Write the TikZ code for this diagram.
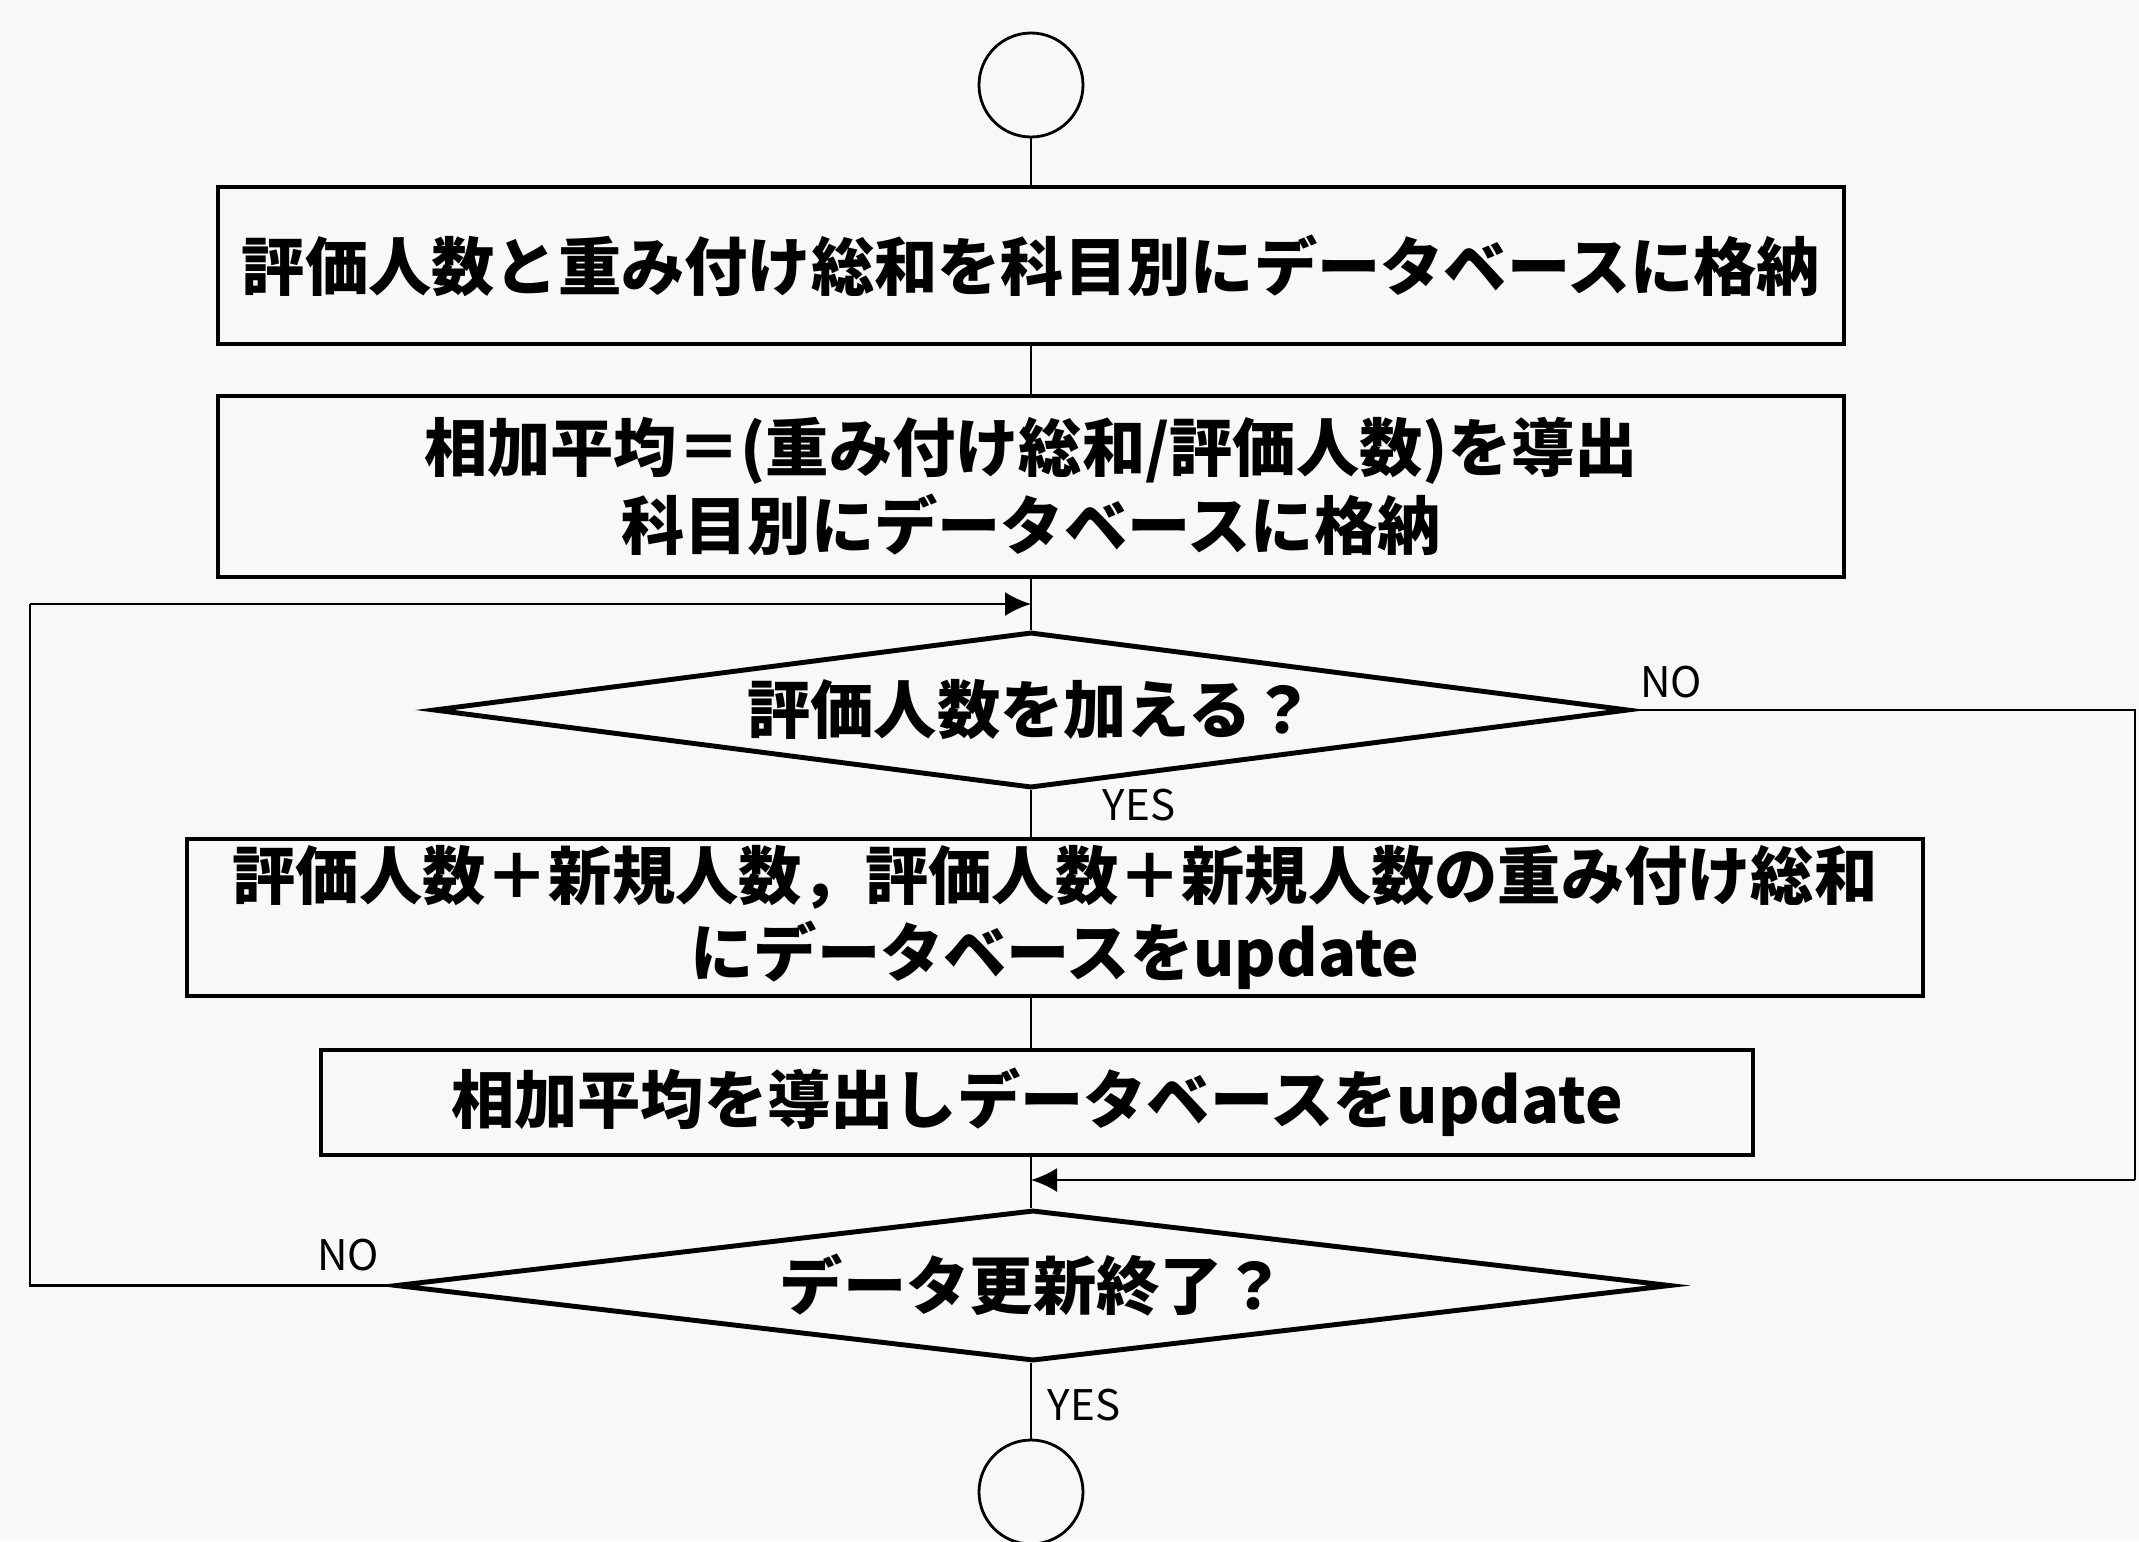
\documentclass[tikz,border=0pt]{standalone}
\usepackage{fontspec}
\setmainfont{Noto Sans CJK JP}
\usetikzlibrary{shapes.geometric,arrows.meta}
\definecolor{paper}{RGB}{248,248,248}

\begin{document}
\begin{tikzpicture}
  \tikzset{every node/.style={font=\fontsize{18}{22}\selectfont\bfseries}}
  \tikzset{process/.style={draw,line width=1.4pt,align=center,inner sep=0pt}}
  \tikzset{decision/.style={draw,diamond,line width=1.4pt,inner sep=0pt,aspect=7.6}}
  \tikzset{terminal/.style={draw,circle,line width=0.8pt,minimum size=1.04cm,inner sep=0pt}}
  \tikzset{answer/.style={font=\fontsize{12}{14}\selectfont}}
  \tikzset{flow/.style={line width=0.7pt}}
  \tikzset{into/.style={flow,-{Latex[length=2.6mm,width=2.4mm]}}}
  \useasboundingbox[fill=paper] (0,0) rectangle (21.39,-15.41);
  \node[terminal] (start) at (10.31,-0.85) {};
  \node[process,minimum width=16.26cm,minimum height=1.57cm] (store) at (10.31,-2.655)
    {評価人数と重み付け総和を科目別にデータベースに格納};
  \node[process,minimum width=16.26cm,minimum height=1.81cm] (mean) at (10.31,-4.865)
    {相加平均＝(重み付け総和/評価人数)を導出\\科目別にデータベースに格納};
  \node[decision,minimum width=11.95cm,minimum height=1.56cm] (add) at (10.31,-7.10)
    {評価人数を加える？};
  \node[process,minimum width=17.36cm,minimum height=1.57cm] (update) at (10.55,-9.175)
    {評価人数＋新規人数，評価人数＋新規人数の重み付け総和\\にデータベースをupdate};
  \node[process,minimum width=14.32cm,minimum height=1.05cm] (remean) at (10.37,-11.025)
    {相加平均を導出しデータベースをupdate};
  \node[decision,minimum width=12.75cm,minimum height=1.51cm] (done) at (10.33,-12.855)
    {データ更新終了？};
  \node[terminal] (stop) at (10.31,-14.92) {};
  \node[answer] (no1) at (16.71,-6.82) {NO};
  \node[answer] (yes1) at (11.39,-8.05) {YES};
  \node[answer] (no2) at (3.48,-12.55) {NO};
  \node[answer] (yes2) at (10.84,-14.05) {YES};
  \coordinate (join1) at (10.31,-6.04);
  \coordinate (join2) at (10.31,-11.80);
  \coordinate (loopL) at (0.30,-6.04);
  \coordinate (loopR) at (21.35,-11.80);
  \draw[flow] (start.south) -- (start.south |- store.north);
  \draw[flow] (store.south -| start) -- (mean.north -| start);
  \draw[flow] (mean.south -| start) -- (add.north -| start);
  \draw[flow] (add.south -| start) -- (update.north -| start);
  \draw[flow] (update.south -| start) -- (remean.north -| start);
  \draw[flow] (remean.south -| start) -- (done.north -| start);
  \draw[flow] (done.south -| start) -- (stop.north);
  \draw[flow] (done.west) -| (loopL);
  \draw[into] (loopL) -- (join1);
  \draw[flow] (add.east) -| (loopR);
  \draw[into] (loopR) -- (join2);
\end{tikzpicture}
\end{document}
